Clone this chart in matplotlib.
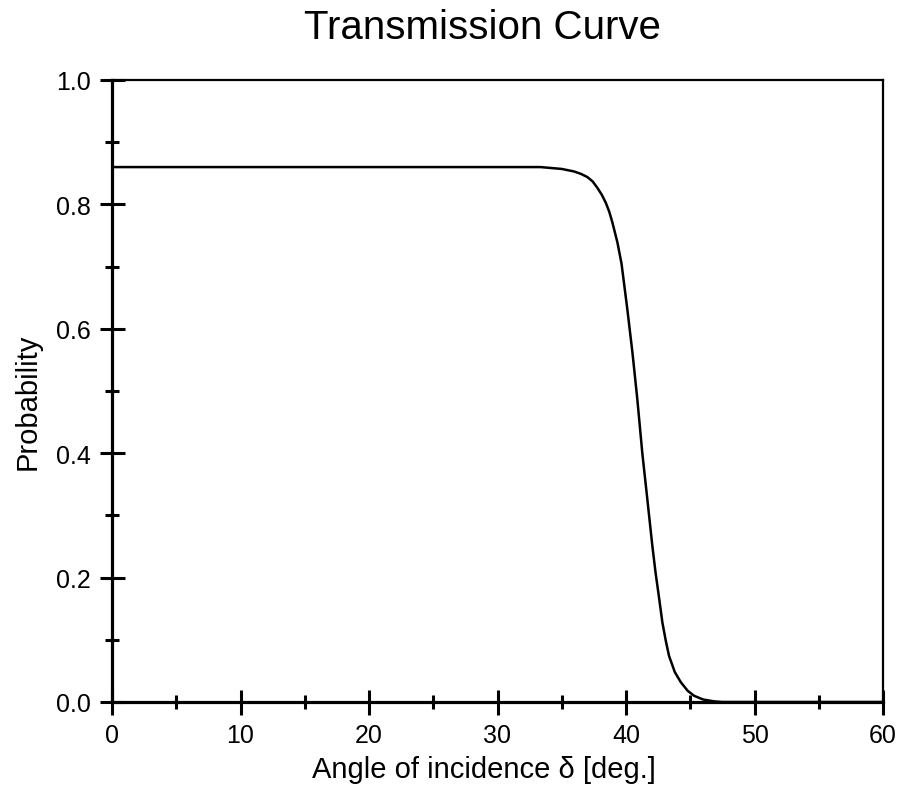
import matplotlib
matplotlib.use("Agg")
import matplotlib.pyplot as plt
from matplotlib.ticker import MultipleLocator, FormatStrFormatter

plt.rcParams['font.family'] = ['Liberation Sans', 'DejaVu Sans']

# Data
angle_deg = [0, 30, 33.35, 35.0, 35.95, 36.5, 36.99, 37.4, 37.76, 38.1, 38.42, 38.7,
             38.94, 39.33, 39.65, 40.1, 40.5, 40.88, 41.27, 41.66, 42.05, 42.3,
             42.57, 42.83, 43.1, 43.35, 43.8, 44.26, 44.8, 45.3, 46.0, 46.86,
             47.5, 60]
probability = [0.86, 0.86, 0.860, 0.857, 0.853, 0.849, 0.844, 0.837, 0.827, 0.816,
               0.803, 0.788, 0.771, 0.739, 0.705, 0.632, 0.562, 0.487, 0.40, 0.326,
               0.251, 0.208, 0.168, 0.128, 0.098, 0.074, 0.048, 0.032, 0.018,
               0.010, 0.004, 0.001, 0.0, 0.0]

title = "Transmission Curve"
xlabel = "Angle of incidence δ [deg.]"
ylabel = "Probability"

fig = plt.figure(figsize=(9.02, 8.03), dpi=100)
ax = fig.add_axes([112/902, 100/803, 771/902, 622/803])

ax.plot(angle_deg, probability, color='black', lw=1.8, solid_joinstyle='round')

ax.set_xlim(0, 60)
ax.set_ylim(0, 1.0)
ax.xaxis.set_major_locator(MultipleLocator(10))
ax.xaxis.set_minor_locator(MultipleLocator(5))
ax.yaxis.set_major_locator(MultipleLocator(0.2))
ax.yaxis.set_minor_locator(MultipleLocator(0.1))
ax.yaxis.set_major_formatter(FormatStrFormatter('%.1f'))

for side in ['left', 'bottom']:
    ax.spines[side].set_linewidth(2.3)
for side in ['top', 'right']:
    ax.spines[side].set_linewidth(1.6)

ax.tick_params(which='major', direction='inout', length=18, width=2.2,
               labelsize=18, pad=6, top=False, right=False)
ax.tick_params(which='minor', direction='inout', length=10, width=2.2,
               top=False, right=False)

fig.text(482/902, 1 - 28/803, title, fontsize=29, ha='center', va='center')
fig.text(484/902, 1 - 770/803, xlabel, fontsize=21, ha='center', va='center')
fig.text(28/902, 1 - 402/803, ylabel, fontsize=21, ha='center', va='center',
         rotation=90)

fig.savefig("out.png", dpi=100)
